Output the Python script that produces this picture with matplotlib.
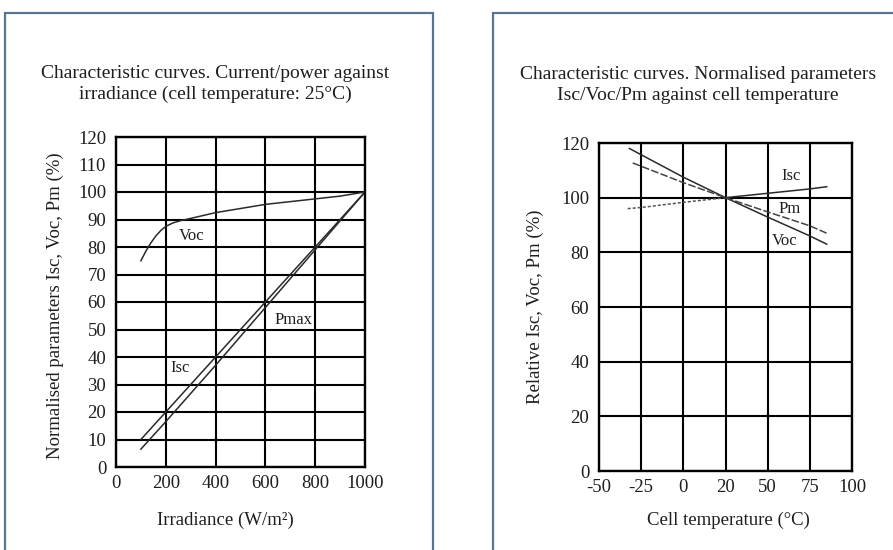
"""
Characteristic curves of a PV module:
left  - normalised Isc / Voc / Pmax against irradiance (25 degC)
right - relative Isc / Voc / Pm against cell temperature
"""

import numpy as np
import matplotlib
matplotlib.use("Agg")
import matplotlib.pyplot as plt
from matplotlib.patches import Rectangle


# ── Data: irradiance chart ───────────────────────────────────────────────────

irr_voc = [100, 120, 140, 160, 180, 200, 230, 260, 300, 400, 500, 600, 700, 800, 900, 1000]
voc_irr = [75, 78.5, 81.5, 84, 86, 87.5, 88.8, 89.6, 90.4, 92.5, 94, 95.5, 96.5, 97.5, 98.5, 100]

irr_lin = [100, 200, 400, 600, 800, 1000]
isc_irr = [10, 20, 40, 60, 80, 100]
pmax_irr = [6.5, 16.5, 37, 58, 79, 100]

irr_ticks = [0, 200, 400, 600, 800, 1000]
irr_yticks = list(range(0, 121, 10))

# ── Data: temperature chart ──────────────────────────────────────────────────

temp_ticks = [-50, -25, 0, 20, 50, 75, 100]   # equally spaced on the original
temp_yticks = [0, 20, 40, 60, 80, 100, 120]

temp_isc = [-33, -25, 0, 20, 50, 75, 85]
isc_temp = [96, 96.4, 98.3, 100, 101.6, 103.2, 104]

temp_voc = [-32, -25, 0, 20, 50, 75, 85]
voc_temp = [118, 115.7, 107.5, 100, 92.9, 86, 83]

temp_pm = [-30, -25, 0, 20, 50, 75, 85]
pm_temp = [112.7, 111.5, 105.5, 100, 94.8, 89.7, 87]


# ── Style ────────────────────────────────────────────────────────────────────

plt.rcParams["font.family"] = ["Liberation Serif", "DejaVu Serif"]
TXT = "#1e1e1e"
FS = 13.5
LINE = "#2a2a2a"


def style_axes(ax):
    ax.grid(True, color="black", linewidth=1.5)
    ax.set_axisbelow(True)
    for sp in ax.spines.values():
        sp.set_linewidth(1.7)
        sp.set_color("black")
    ax.tick_params(length=0, labelsize=FS, labelcolor=TXT)
    ax.tick_params(axis="y", pad=7)
    ax.tick_params(axis="x", pad=6)


fig = plt.figure(figsize=(8.93, 5.5), dpi=100)
W, H = 893, 550


def px(x0, y0, x1, y1):
    """pixel box (top-left origin) -> figure fraction rect"""
    return [x0 / W, 1 - y1 / H, (x1 - x0) / W, (y1 - y0) / H]


# panel frames (run off the bottom / right edge like the source)
for x0, x1 in [(4.5, 432.5), (493, 905)]:
    fig.patches.append(Rectangle((x0 / W, -0.05), (x1 - x0) / W, 1.05 - 13 / H,
                                 transform=fig.transFigure, fill=False,
                                 edgecolor="#587592", linewidth=1.6))

# ── Left: against irradiance ─────────────────────────────────────────────────

ax1 = fig.add_axes(px(116, 137, 365, 467))
ax1.plot(irr_voc, voc_irr, color=LINE, lw=1.1)
ax1.plot(irr_lin, isc_irr, color=LINE, lw=1.1)
ax1.plot(irr_lin, pmax_irr, color=LINE, lw=1.1)
ax1.set_xlim(0, 1000)
ax1.set_ylim(0, 120)
ax1.set_xticks(irr_ticks)
ax1.set_yticks(irr_yticks)
style_axes(ax1)

ax1.text(305, 84, "Voc", fontsize=FS - 1.5, color=TXT, ha="center", va="center")
ax1.text(711, 53.5, "Pmax", fontsize=FS - 1.5, color=TXT, ha="center", va="center")
ax1.text(257, 36, "Isc", fontsize=FS - 1.5, color=TXT, ha="center", va="center")

ax1.set_xlabel("Irradiance (W/m²)", fontsize=FS, color=TXT, va="center")
ax1.xaxis.set_label_coords((225 - 116) / 249, -(520 - 467) / 330)
ax1.set_ylabel("Normalised parameters Isc, Voc, Pm (%)", fontsize=FS, color=TXT,
               va="center")
ax1.yaxis.set_label_coords((55 - 116) / 249, 0.49)

fig.text(215 / W, 1 - 84 / H,
         "Characteristic curves. Current/power against\nirradiance (cell temperature: 25°C)",
         ha="center", va="center", fontsize=FS + 0.5, color=TXT, linespacing=1.35)

# ── Right: against cell temperature ──────────────────────────────────────────

pos = np.arange(len(temp_ticks))


def fwd(t):
    return np.interp(t, temp_ticks, pos)


def inv(p):
    return np.interp(p, pos, temp_ticks)


ax2 = fig.add_axes(px(599, 143, 852, 471))
ax2.set_xscale("function", functions=(fwd, inv))

t_isc = np.array(temp_isc)
v_isc = np.array(isc_temp)
cold = t_isc <= 20
warm = t_isc >= 20
ax2.plot(t_isc[cold], v_isc[cold], color="#555555", lw=1.1, ls=(0, (2, 1.3)))
ax2.plot(t_isc[warm], v_isc[warm], color=LINE, lw=1.1)
ax2.plot(temp_voc, voc_temp, color=LINE, lw=1.1)
ax2.plot(temp_pm, pm_temp, color="#444444", lw=1.1, ls=(0, (5, 1.5)))

ax2.set_xlim(-50, 100)
ax2.set_ylim(0, 120)
ax2.set_xticks(temp_ticks)
ax2.set_xticklabels([str(t) for t in temp_ticks])
ax2.set_yticks(temp_yticks)
style_axes(ax2)

ax2.text(64, 108, "Isc", fontsize=FS - 1.5, color=TXT, ha="center", va="center")
ax2.text(63, 96, "Pm", fontsize=FS - 1.5, color=TXT, ha="center", va="center")
ax2.text(60, 84.2, "Voc", fontsize=FS - 1.5, color=TXT, ha="center", va="center")

ax2.set_xlabel("Cell temperature (°C)", fontsize=FS, color=TXT, va="center")
ax2.xaxis.set_label_coords((728 - 599) / 253, -(520 - 471) / 328)
ax2.set_ylabel("Relative Isc, Voc, Pm (%)", fontsize=FS, color=TXT, va="center")
ax2.yaxis.set_label_coords((535 - 599) / 253, 0.5)

fig.text(698 / W, 1 - 85 / H,
         "Characteristic curves. Normalised parameters\nIsc/Voc/Pm against cell temperature",
         ha="center", va="center", fontsize=FS + 0.5, color=TXT, linespacing=1.35)

fig.savefig("out.png", dpi=100, facecolor="white")
